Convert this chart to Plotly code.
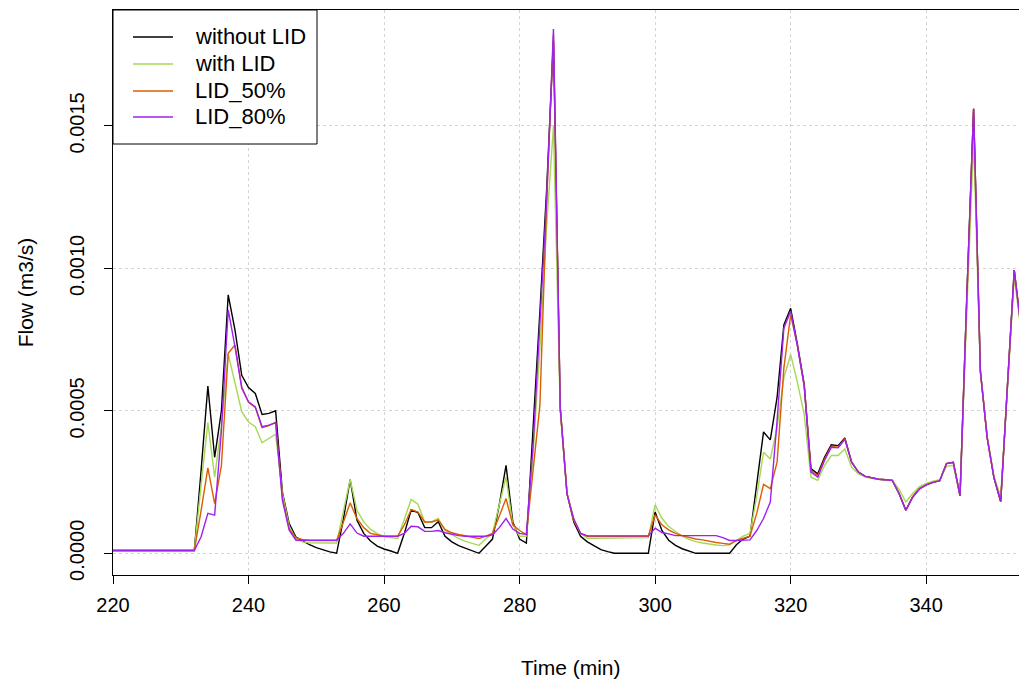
import plotly.graph_objects as go

time_min = list(range(220, 356))

without_lid = [
    0.00001, 0.00001, 0.00001, 0.00001, 0.00001, 0.00001, 0.00001, 0.00001, 0.00001, 0.00001,  # 220-229
    0.00001, 0.00001, 0.00001, 0.00029, 0.000587, 0.000337, 0.0005, 0.000907, 0.000784, 0.000625,  # 230-239
    0.000582, 0.000561, 0.000487, 0.000491, 0.0005, 0.000215, 0.000104, 0.000057, 0.000043, 0.00003,  # 240-249
    0.00002, 0.000012, 0.000005, 0.0, 0.00012, 0.000259, 0.000116, 0.00007, 0.000043, 0.000025,  # 250-259
    0.000015, 0.000008, 0.0, 0.00007, 0.000152, 0.000143, 0.00009, 0.00009, 0.000111, 0.00006,  # 260-269
    0.00004, 0.000027, 0.000018, 0.00001, 0.0, 0.000025, 0.00005, 0.00017, 0.000309, 0.00011,  # 270-279
    0.00005, 0.000036, 0.00043, 0.00085, 0.00128, 0.0018, 0.00051, 0.00021, 0.00011, 0.00006,  # 280-289
    0.00004, 0.000025, 0.000013, 0.000006, 0.0, 0.0, 0.0, 0.0, 0.0, 0.0,  # 290-299
    0.000145, 0.00008, 0.000046, 0.000028, 0.000016, 0.000008, 0.0, 0.0, 0.0, 0.0,  # 300-309
    0.0, 0.0, 0.00003, 0.00005, 0.00006, 0.00024, 0.000426, 0.000398, 0.000547, 0.000802,  # 310-319
    0.00086, 0.000733, 0.000593, 0.000297, 0.000279, 0.000337, 0.000381, 0.000378, 0.000405, 0.00032,  # 320-329
    0.000285, 0.00027, 0.000264, 0.00026, 0.000258, 0.000256, 0.00021, 0.000151, 0.000198, 0.000227,  # 330-339
    0.00024, 0.000249, 0.000255, 0.000315, 0.000319, 0.000202, 0.0009, 0.00156, 0.00064, 0.000407,  # 340-349
    0.000266, 0.000182, 0.00059, 0.000994, 0.00079, 0.0006,  # 350-355
]

with_lid = [
    0.00001, 0.00001, 0.00001, 0.00001, 0.00001, 0.00001, 0.00001, 0.00001, 0.00001, 0.00001,
    0.00001, 0.00001, 0.00001, 0.00024, 0.000459, 0.000267, 0.00045, 0.000699, 0.0006, 0.000497,
    0.000461, 0.000444, 0.000388, 0.000403, 0.000418, 0.00021, 0.000095, 0.00005, 0.00004, 0.000037,
    0.000036, 0.000036, 0.000036, 0.000036, 0.00015, 0.000259, 0.000151, 0.00011, 0.000084, 0.000069,
    0.000058, 0.000054, 0.000052, 0.00012, 0.000189, 0.000172, 0.00011, 0.00011, 0.000122, 0.00008,
    0.000065, 0.000052, 0.000042, 0.000034, 0.000028, 0.00005, 0.00007, 0.00017, 0.000268, 0.0001,
    0.00006, 0.00006, 0.00035, 0.00072, 0.00115, 0.0015, 0.0005, 0.00021, 0.00012, 0.00007,
    0.000053, 0.000053, 0.000053, 0.000053, 0.000053, 0.000053, 0.000053, 0.000053, 0.000053, 0.000055,
    0.00017, 0.000123, 0.000094, 0.000076, 0.00006, 0.000049, 0.000041, 0.000036, 0.000032, 0.000029,
    0.000027, 0.00003, 0.000045, 0.00006, 0.00007, 0.0002, 0.000355, 0.000331, 0.00044, 0.000616,
    0.000698, 0.0006, 0.000488, 0.000267, 0.000256, 0.000308, 0.000343, 0.000343, 0.000366, 0.000302,
    0.000279, 0.000268, 0.000262, 0.00026, 0.000258, 0.000256, 0.000225, 0.00018, 0.00021, 0.000233,
    0.000245, 0.000253, 0.000258, 0.000305, 0.000309, 0.000205, 0.00085, 0.00145, 0.00064, 0.00041,
    0.00027, 0.0002, 0.00058, 0.00097, 0.00078, 0.0006,
]

lid_50 = [
    0.00001, 0.00001, 0.00001, 0.00001, 0.00001, 0.00001, 0.00001, 0.00001, 0.00001, 0.00001,
    0.00001, 0.00001, 0.00001, 0.00015, 0.0003, 0.000174, 0.000308, 0.000702, 0.000731, 0.000584,
    0.00053, 0.000512, 0.000441, 0.000448, 0.00046, 0.000195, 0.000085, 0.000055, 0.000048, 0.000045,
    0.000045, 0.000045, 0.000045, 0.000045, 0.00011, 0.000177, 0.000122, 0.00009, 0.00007, 0.000064,
    0.00006, 0.00006, 0.00006, 0.0001, 0.000153, 0.000145, 0.00011, 0.00011, 0.000117, 0.000084,
    0.000072, 0.000066, 0.000062, 0.000056, 0.000052, 0.00006, 0.00007, 0.00013, 0.000192, 0.0001,
    0.00008, 0.000066, 0.00029, 0.00052, 0.00124, 0.00182, 0.00051, 0.00021, 0.000115, 0.00007,
    0.00006, 0.00006, 0.00006, 0.00006, 0.00006, 0.00006, 0.00006, 0.00006, 0.00006, 0.00006,
    0.000135, 0.0001, 0.000082, 0.00007, 0.000062, 0.000056, 0.00005, 0.000047, 0.000042, 0.000038,
    0.000035, 0.000032, 0.000045, 0.000053, 0.00006, 0.00014, 0.000242, 0.000227, 0.00032, 0.00065,
    0.000837, 0.00073, 0.00059, 0.00029, 0.000272, 0.00033, 0.000375, 0.000372, 0.000402, 0.00032,
    0.000285, 0.00027, 0.000264, 0.00026, 0.000258, 0.000256, 0.00021, 0.000151, 0.000198, 0.000227,
    0.00024, 0.000249, 0.000255, 0.000315, 0.000319, 0.000202, 0.0009, 0.00156, 0.00064, 0.000407,
    0.000266, 0.000182, 0.00059, 0.000994, 0.00079, 0.0006,
]

lid_80 = [
    0.00001, 0.00001, 0.00001, 0.00001, 0.00001, 0.00001, 0.00001, 0.00001, 0.00001, 0.00001,
    0.00001, 0.00001, 0.00001, 0.000058, 0.00014, 0.000134, 0.00043, 0.000854, 0.000725, 0.000579,
    0.000532, 0.000514, 0.000444, 0.00045, 0.000458, 0.000186, 0.000081, 0.000046, 0.000046, 0.000046,
    0.000046, 0.000046, 0.000046, 0.000046, 0.00007, 0.000103, 0.000071, 0.00006, 0.00006, 0.00006,
    0.00006, 0.00006, 0.00006, 0.00007, 0.000095, 0.000093, 0.000077, 0.000077, 0.00008, 0.000072,
    0.000066, 0.000062, 0.00006, 0.00006, 0.00006, 0.00006, 0.000065, 0.00009, 0.000122, 0.000085,
    0.00007, 0.000066, 0.00038, 0.00082, 0.00124, 0.00184, 0.000512, 0.000207, 0.00012, 0.00007,
    0.000061, 0.000061, 0.000061, 0.000061, 0.000061, 0.000061, 0.000061, 0.000061, 0.000061, 0.000061,
    0.000088, 0.000073, 0.000068, 0.000062, 0.000062, 0.000062, 0.000062, 0.000062, 0.000062, 0.000062,
    0.000055, 0.000045, 0.000045, 0.000045, 0.000047, 0.00008, 0.000122, 0.00018, 0.000465, 0.00079,
    0.00085, 0.000727, 0.000587, 0.000285, 0.000267, 0.000326, 0.000372, 0.00037, 0.0004, 0.00032,
    0.000285, 0.00027, 0.000264, 0.00026, 0.000258, 0.000256, 0.00021, 0.000151, 0.000196, 0.000225,
    0.00024, 0.000249, 0.000255, 0.000315, 0.000319, 0.000202, 0.0009, 0.00156, 0.00064, 0.000407,
    0.000266, 0.000182, 0.00059, 0.000994, 0.00079, 0.0006,
]

series_names = ["without LID", "with LID", "LID_50%", "LID_80%"]
series_values = [without_lid, with_lid, lid_50, lid_80]
series_colors = ["#000000", "#A6D854", "#D95F02", "#A020F0"]

x_ticks = [220, 240, 260, 280, 300, 320, 340]
y_ticks = [0.0, 0.0005, 0.0010, 0.0015]
y_tick_labels = ["0.0000", "0.0005", "0.0010", "0.0015"]

FONT = "Liberation Sans, Arial, sans-serif"

# plot area in pixels (for layout helpers)
L, R, T, B = 113, 1019, 10, 575
W, H = R - L, B - T


def px_x(px):
    return (px - L) / W


def px_y(py):
    return (B - py) / H


fig = go.Figure()
for name, vals, col in zip(series_names, series_values, series_colors):
    fig.add_trace(go.Scatter(x=time_min, y=vals, mode="lines", name=name,
                             line=dict(color=col, width=1.4), showlegend=False))

# Manual legend box (R-style)
shapes = [dict(type="rect", xref="paper", yref="paper",
               x0=px_x(113), x1=px_x(317), y0=px_y(144), y1=px_y(10),
               line=dict(color="black", width=1), fillcolor="white", layer="above")]
annotations = []
row_y = [37, 64, 91, 117]
for name, col, ry in zip(series_names, series_colors, row_y):
    shapes.append(dict(type="line", xref="paper", yref="paper",
                       x0=px_x(133), x1=px_x(173), y0=px_y(ry), y1=px_y(ry),
                       line=dict(color=col, width=1.4), layer="above"))
    annotations.append(dict(text=name, xref="paper", yref="paper",
                            x=px_x(193), y=px_y(ry), xanchor="left", yanchor="middle",
                            showarrow=False, font=dict(family=FONT, size=22, color="black")))

annotations.append(dict(text="Time (min)", xref="paper", yref="paper",
                        x=px_x(571), y=px_y(667), xanchor="center", yanchor="middle",
                        showarrow=False, font=dict(family=FONT, size=21, color="black")))

fig.update_layout(
    width=1019, height=684,
    margin=dict(l=113, r=0, t=10, b=109),
    paper_bgcolor="white", plot_bgcolor="white",
    font=dict(family=FONT, size=20, color="black"),
    showlegend=False,
    shapes=shapes,
    annotations=annotations,
)
fig.update_xaxes(
    range=[220, 353.7], tickvals=x_ticks, ticks="outside", ticklen=8,
    tickcolor="black", showline=True, linecolor="black", linewidth=1, mirror=True,
    showgrid=True, gridcolor="#D3D3D3", griddash="dot", gridwidth=1,
    zeroline=False, tickfont=dict(size=20), ticklabelstandoff=4,
)
fig.update_yaxes(
    range=[-0.0000762, 0.001907], tickvals=y_ticks, ticktext=y_tick_labels,
    tickangle=-90, ticks="outside", ticklen=8, tickcolor="black",
    showline=True, linecolor="black", linewidth=1, mirror=False,
    showgrid=True, gridcolor="#D3D3D3", griddash="dot", gridwidth=1,
    zeroline=False, tickfont=dict(size=20), ticklabelstandoff=12,
    title=dict(text="Flow (m3/s)", font=dict(size=21), standoff=26),
)

fig.write_html("out.html")
